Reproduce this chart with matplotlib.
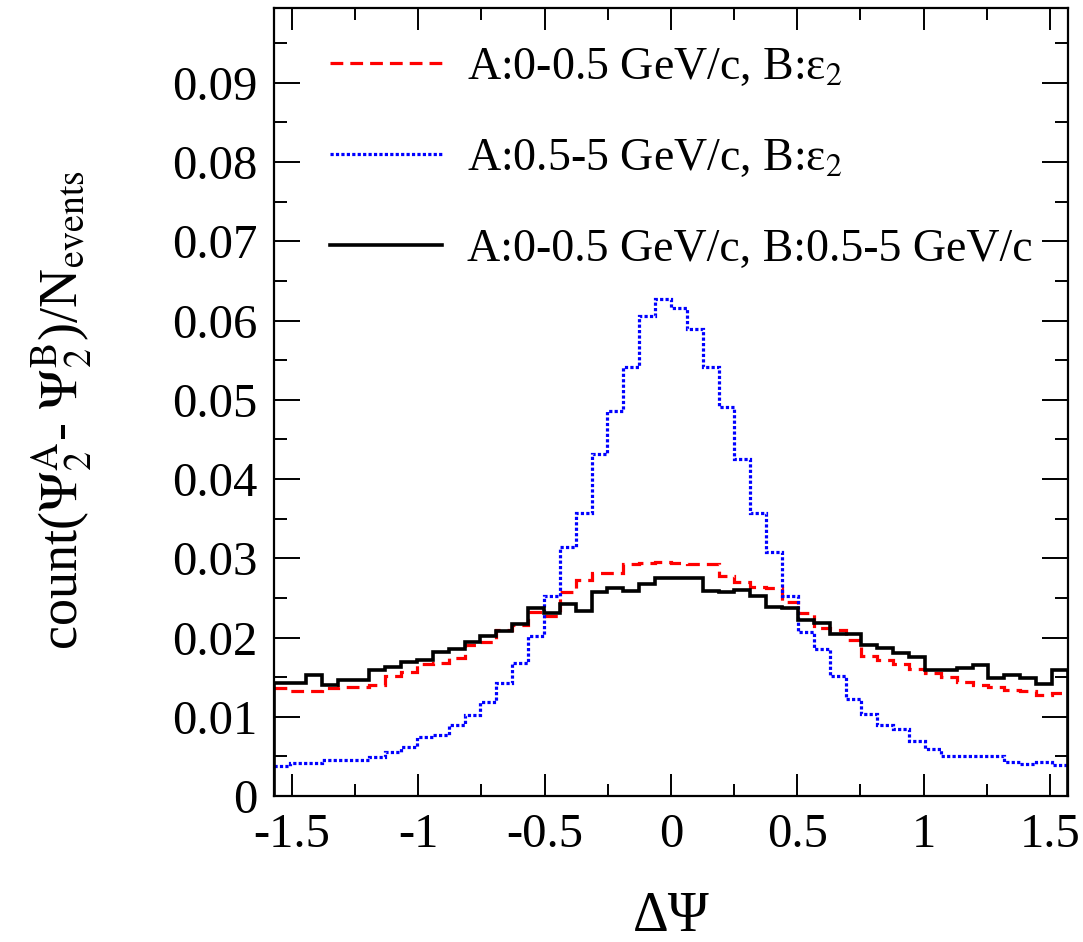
import numpy as np
import matplotlib
matplotlib.use('Agg')
import matplotlib.pyplot as plt
from matplotlib.ticker import MultipleLocator, FormatStrFormatter

plt.rcParams['font.family'] = 'Liberation Serif'
plt.rcParams['mathtext.fontset'] = 'stix'
plt.rcParams['axes.unicode_minus'] = False

# 50 bins from -pi/2 to pi/2
edges = np.linspace(-np.pi / 2, np.pi / 2, 51)

# A:0-0.5 GeV/c, B:eps2
red = [0.0136, 0.0132, 0.0132, 0.0136, 0.0138, 0.0138, 0.0140, 0.0151, 0.0157, 0.0166,
       0.0168, 0.0174, 0.0190, 0.0194, 0.0210, 0.0216, 0.0232, 0.0227, 0.0257, 0.0272,
       0.0281, 0.0281, 0.0293, 0.0294, 0.0295, 0.0294, 0.0293, 0.0293, 0.0277, 0.0270,
       0.0264, 0.0262, 0.0245, 0.0231, 0.0212, 0.0209, 0.0197, 0.0177, 0.0172, 0.0166,
       0.0160, 0.0155, 0.0150, 0.0144, 0.0140, 0.0137, 0.0134, 0.0132, 0.0128, 0.0130]

# A:0.5-5 GeV/c, B:eps2
blue = [0.0038, 0.0042, 0.0042, 0.0046, 0.0046, 0.0046, 0.0049, 0.0056, 0.0062, 0.0074,
        0.0077, 0.0089, 0.0102, 0.0119, 0.0142, 0.0168, 0.0202, 0.0253, 0.0314, 0.0357,
        0.0431, 0.0486, 0.0542, 0.0606, 0.0627, 0.0616, 0.0589, 0.0542, 0.0491, 0.0425,
        0.0357, 0.0308, 0.0253, 0.0207, 0.0185, 0.0151, 0.0123, 0.0104, 0.0090, 0.0084,
        0.0069, 0.0059, 0.0051, 0.0051, 0.0051, 0.0051, 0.0043, 0.0041, 0.0043, 0.0039]

# A:0-0.5 GeV/c, B:0.5-5 GeV/c
black = [0.0143, 0.0143, 0.0153, 0.0140, 0.0146, 0.0146, 0.0159, 0.0163, 0.0169, 0.0172,
         0.0182, 0.0186, 0.0194, 0.0202, 0.0208, 0.0217, 0.0237, 0.0231, 0.0242, 0.0234,
         0.0257, 0.0262, 0.0259, 0.0268, 0.0275, 0.0275, 0.0275, 0.0259, 0.0257, 0.0260,
         0.0252, 0.0239, 0.0237, 0.0222, 0.0218, 0.0204, 0.0204, 0.0190, 0.0187, 0.0180,
         0.0175, 0.0159, 0.0159, 0.0162, 0.0165, 0.0149, 0.0153, 0.0149, 0.0141, 0.0159]

labels = ['A:0-0.5 GeV/c, B:ε$_2$',
          'A:0.5-5 GeV/c, B:ε$_2$',
          'A:0-0.5 GeV/c, B:0.5-5 GeV/c']

fig = plt.figure(figsize=(10.83, 9.42), dpi=100)
ax = fig.add_axes([0.253, 0.155, 0.733, 0.837])

ax.stairs(red, edges, baseline=None, color='red', lw=2.3, ls=(0, (4, 2.2)), label=labels[0])
ax.stairs(blue, edges, baseline=None, color='blue', lw=2.3, ls=(0, (1, 0.7)), label=labels[1])
ax.stairs(black, edges, baseline=0, color='black', lw=2.6, label=labels[2])

ax.set_xlim(-np.pi / 2, np.pi / 2)
ax.set_ylim(0, 0.0995)

ax.xaxis.set_major_locator(MultipleLocator(0.5))
ax.xaxis.set_minor_locator(MultipleLocator(0.25))
ax.yaxis.set_major_locator(MultipleLocator(0.01))
ax.yaxis.set_minor_locator(MultipleLocator(0.005))
ax.xaxis.set_major_formatter(FormatStrFormatter('%g'))
ax.yaxis.set_major_formatter(FormatStrFormatter('%g'))

ax.tick_params(which='both', direction='in', top=True, right=True, width=1.4, labelsize=35)
ax.tick_params(axis='x', which='major', length=16, pad=12)
ax.tick_params(axis='x', which='minor', length=8.5)
ax.tick_params(axis='y', which='major', length=19, pad=12)
ax.tick_params(axis='y', which='minor', length=9.5)
for s in ax.spines.values():
    s.set_linewidth(1.6)

ax.set_xlabel('ΔΨ', fontsize=40)
ax.xaxis.set_label_coords(0.5, -0.12)
ax.set_ylabel(r'count($\Psi_2^{\mathrm{A}}$- $\Psi_2^{\mathrm{B}}$)/N$_{\mathrm{events}}$', fontsize=39)
ax.yaxis.set_label_coords(-0.225, 0.49)

ax.legend(loc='upper left', bbox_to_anchor=(0.07, 0.95), frameon=False, fontsize=33,
          handlelength=2.45, handletextpad=0.54, labelspacing=1.05, borderpad=0, borderaxespad=0)

plt.savefig('out.png')
